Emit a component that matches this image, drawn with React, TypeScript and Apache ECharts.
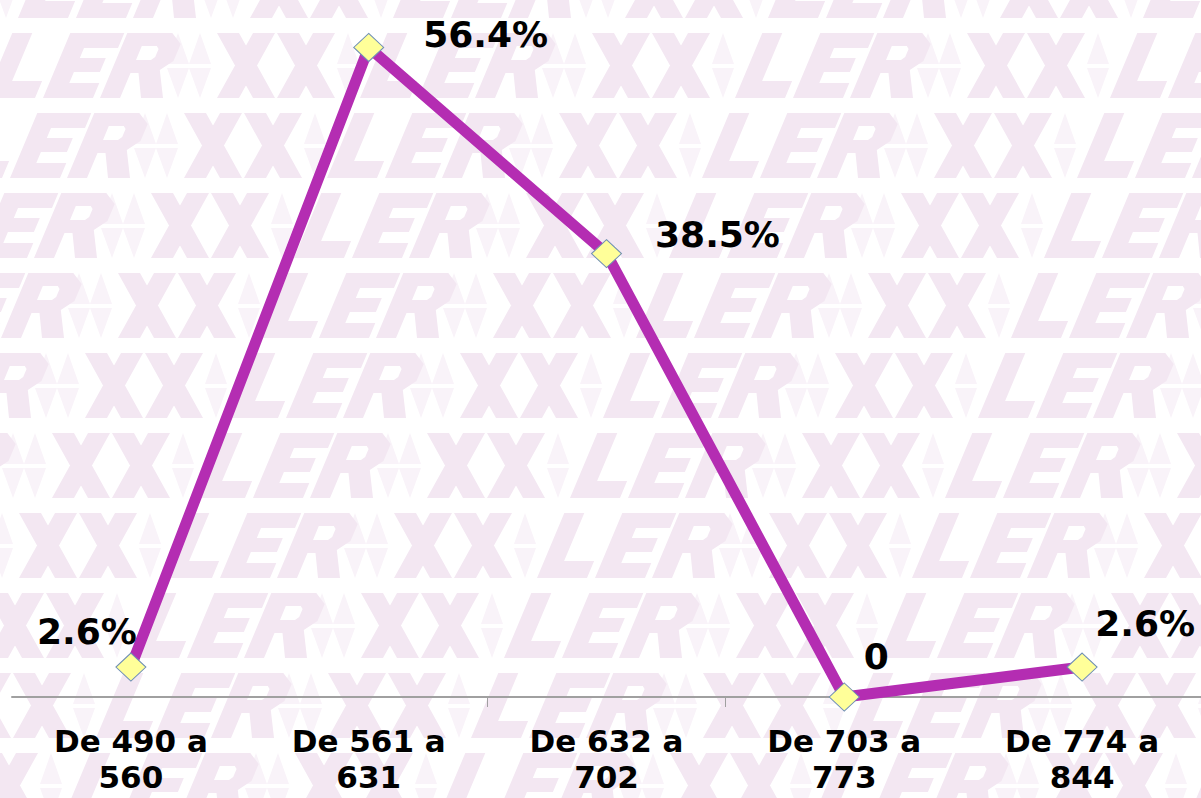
import React, { useEffect, useRef } from "react";
import * as echarts from "echarts";

// ---- data ----
const categories = [
  "De 490 a\n560",
  "De 561 a\n631",
  "De 632 a\n702",
  "De 703 a\n773",
  "De 774 a\n844",
];
const values = [2.6, 56.4, 38.5, 0, 2.6];
const labelTexts = ["2.6%", "56.4%", "38.5%", "0", "2.6%"];

// label placement (style, not data)
const labelOffsets: [number, number][] = [
  [-44, -36],
  [117, -13],
  [111, -19],
  [32, -41],
  [63, -44],
];

// ---- watermark background (decoration) ----
const K = 0.42;
const H = 65;
type Pt = [number, number];
function shearPoly(pts: Pt[], ox: number, oy: number): string {
  return (
    pts
      .map(
        ([x, y], i) =>
          (i ? "L" : "M") +
          (ox + x + (H - y) * K).toFixed(1) +
          " " +
          (oy + y).toFixed(1)
      )
      .join(" ") + " Z "
  );
}
function plainPoly(pts: Pt[], ox: number, oy: number): string {
  return (
    pts
      .map(
        ([x, y], i) =>
          (i ? "L" : "M") + (ox + x).toFixed(1) + " " + (oy + y).toFixed(1)
      )
      .join(" ") + " Z "
  );
}
const letterL: Pt[] = [[0, 0], [20, 0], [20, 48], [50, 48], [50, 65], [0, 65]];
const letterE: Pt[] = [
  [58, 0], [112, 0], [112, 15], [78, 15], [78, 25], [104, 25], [104, 39],
  [78, 39], [78, 50], [108, 50], [108, 65], [58, 65],
];
const letterR: Pt[] = [
  [115, 0], [160, 0], [173, 11], [173, 28], [163, 37], [178, 65], [156, 65],
  [143, 40], [135, 40], [135, 65], [115, 65],
];
const holeR: Pt[] = [[135, 13], [135, 27], [150, 27], [153, 24], [153, 16], [150, 13]];
function back(a: number): Pt[] {
  return [[a, 0], [a + 22, 0], [a + 58, 65], [a + 36, 65]];
}
function fwd(a: number): Pt[] {
  return [[a + 36, 0], [a + 58, 0], [a + 22, 65], [a, 65]];
}
function diamond(c: number): Pt[][] {
  return [
    [[c, 0], [c + 11, 31], [c - 11, 31]],
    [[c - 11, 35], [c + 11, 35], [c, 65]],
  ];
}
const PERIOD = 375;
let dMain = "";
let dLight = "";
for (let r = 0; r <= 10; r++) {
  const oy = -47 + 80 * r;
  let start = 18 - 33 * r;
  while (start > -PERIOD) start -= PERIOD;
  for (let ox = start; ox < 1300; ox += PERIOD) {
    dMain += shearPoly(letterL, ox, oy);
    dMain += shearPoly(letterE, ox, oy);
    dMain += shearPoly(letterR, ox, oy);
    dMain += shearPoly(holeR, ox, oy);
    dMain += plainPoly(back(ox + 232), 0, oy);
    dMain += plainPoly(fwd(ox + 232), 0, oy);
    dMain += plainPoly(back(ox + 292), 0, oy);
    dMain += plainPoly(fwd(ox + 292), 0, oy);
    [193, 215, 363].forEach((c) =>
      diamond(ox + c).forEach((p) => (dLight += plainPoly(p, 0, oy)))
    );
  }
}
echarts.graphic.registerShape("wmMain", echarts.graphic.extendPath(dMain, {}));
echarts.graphic.registerShape("wmLight", echarts.graphic.extendPath(dLight, {}));

export default function App() {
  const ref = useRef<HTMLDivElement>(null);
  useEffect(() => {
    if (!ref.current) return;
    const chart = echarts.init(ref.current, null, { renderer: "svg" });
    chart.setOption({
      animation: false,
      backgroundColor: "#ffffff",
      graphic: [
        { type: "wmLight", x: 0, y: 0, silent: true, z: -10, style: { fill: "#f9f3f9" } },
        { type: "wmMain", x: 0, y: 0, silent: true, z: -9, style: { fill: "#f3e7f2" } },
      ],
      grid: { left: 12, right: 0, top: 6, bottom: 101 },
      xAxis: {
        type: "category",
        data: categories,
        boundaryGap: true,
        axisLine: { show: true, lineStyle: { color: "#a0a0a0", width: 2 } },
        axisTick: {
          show: true,
          length: 10,
          interval: (idx: number) => idx === 2 || idx === 3,
          lineStyle: { color: "#a0a0a0", width: 1 },
        },
        axisLabel: {
          interval: 0,
          margin: 26,
          color: "#000000",
          fontFamily: "DejaVu Sans",
          fontWeight: "bold",
          fontSize: 31,
          lineHeight: 36,
        },
      },
      yAxis: {
        type: "value",
        min: 0,
        max: 60,
        show: false,
        splitLine: { show: false },
      },
      series: [
        {
          type: "line",
          data: values.map((v, i) => ({
            value: v,
            label: {
              show: true,
              position: "inside",
              offset: labelOffsets[i],
              formatter: () => labelTexts[i],
            },
          })),
          symbol: "diamond",
          symbolSize: [30, 28],
          lineStyle: { color: "#b42db2", width: 11 },
          itemStyle: { color: "#ffff99", borderColor: "#6f8fb5", borderWidth: 1 },
          label: {
            show: true,
            color: "#000000",
            fontFamily: "DejaVu Sans",
            fontWeight: "bold",
            fontSize: 36,
            align: "center",
            verticalAlign: "middle",
          },
          z: 5,
        },
      ],
    });
    return () => chart.dispose();
  }, []);
  return (
    <div
      ref={ref}
      style={{ position: "fixed", left: 0, top: 0, width: 1201, height: 798 }}
    />
  );
}
